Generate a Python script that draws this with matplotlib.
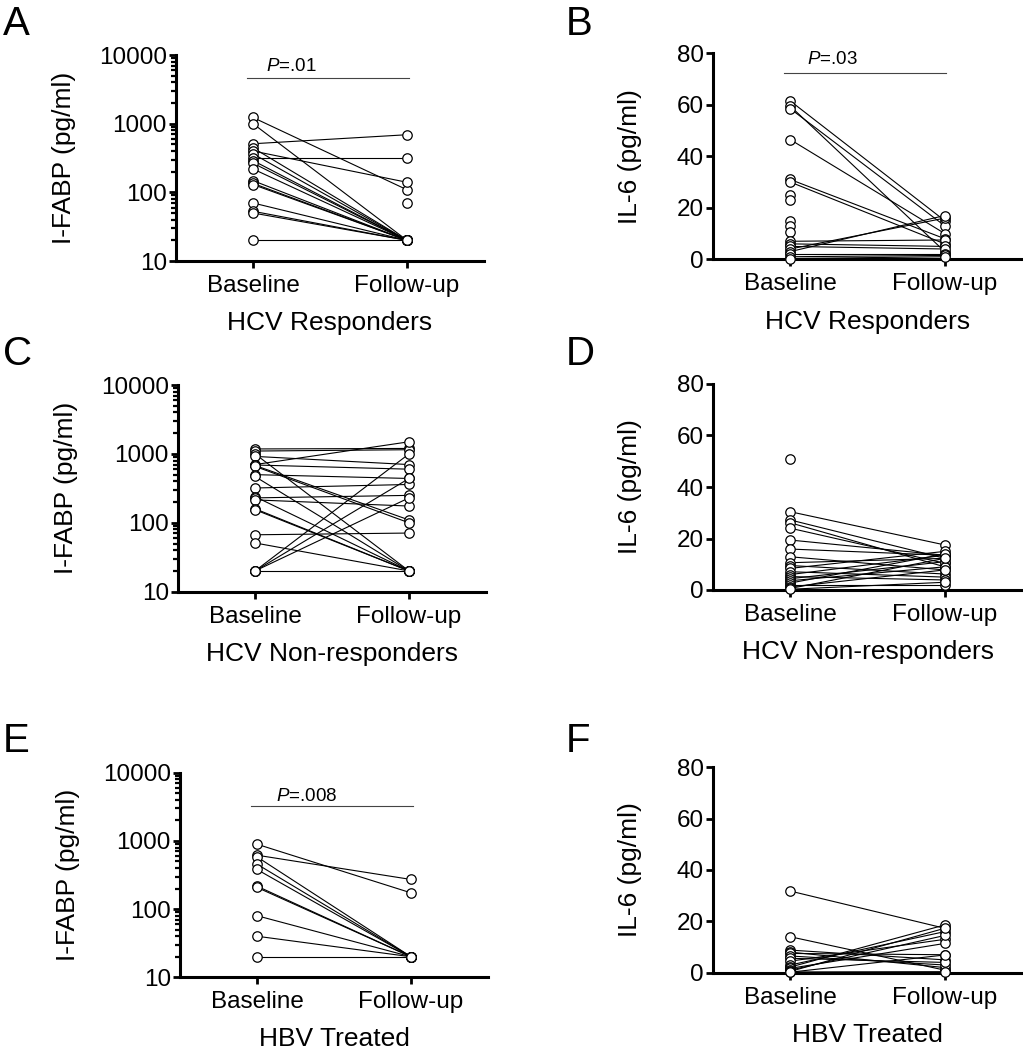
import numpy as np
import matplotlib.pyplot as plt

plt.rcParams['font.family'] = ['Liberation Sans', 'DejaVu Sans']
plt.rcParams['mathtext.fontset'] = 'custom'
plt.rcParams['mathtext.it'] = 'Liberation Sans:italic'
plt.rcParams['mathtext.rm'] = 'Liberation Sans'

nan = np.nan
groups = ['Baseline', 'Follow-up']

# A - I-FABP, HCV responders
a_base = [1230, 1000, 510, 445, 400, 364, 318, 290, 266, 219, 148, 135, 130, 70, 53, 50, 20, nan]
a_follow = [109, 20, 690, 20, 140, 20, 318, 20, 20, 20, 20, 20, 20, 20, 20, 20, 20, 71]

# B - IL-6, HCV responders
b_base = [61.5, 59.5, 58.5, 46.5, 31.0, 30.0, 25.0, 23.0, 15.0, 13.0, 10.5, 7.0, 6.0, 5.0, 4.0, 3.0, 2.0, 1.0, 0.3]
b_follow = [15.0, 3.0, 13.0, 10.0, 8.0, 6.0, nan, nan, nan, nan, nan, 7.5, 5.0, 4.0, 16.0, 17.0, 2.0, 1.5, 1.0]

# C - I-FABP, HCV non-responders
c_base = [1180, 1100, 1000, 920, 700, 690, 680, 660, 500, 470, 320, 240, 230, 215, 160, 155, 67, 51, 20, 20, 20, 20]
c_follow = [1200, 1150, 20, 700, 1500, 600, 110, 100, 440, 20, 360, 20, 250, 175, 20, 20, 71, 20, 1000, 230, 440, 20]

# D - IL-6, HCV non-responders
d_base = [50.7, 30.4, 27.2, 26.1, 24.0, 19.4, 15.9, 12.9, 10.6, 9.5, 8.4, 7.1, 6.0, 5.2, 4.4, 3.6, 2.7, 1.9, 1.2, 0.6, 0.3]
d_follow = [nan, 17.5, 12.3, 9.0, 10.4, 13.5, 13.5, 7.8, 12.3, 6.2, 15.0, 5.0, 13.5, 3.9, 11.0, 9.0, 14.0, 1.9, 7.8, 12.3, 3.0]

# E - I-FABP, HBV treated
e_base = [894, 617, 583, 456, 381, 217, 208, 80, 40, 20]
e_follow = [173, 272, 20, 20, 20, 20, 20, 20, 20, 20]

# F - IL-6, HBV treated
f_base = [31.8, 14.0, 8.8, 8.0, 7.5, 6.5, 5.6, 4.5, 3.0, 2.2, 1.7, 1.0, 0.5, 0.3, 0.2]
f_follow = [17.3, 1.0, 5.0, 2.0, 7.0, 3.0, 4.0, 13.0, 16.0, 18.6, 11.4, 14.5, 17.3, 0.4, 6.9]

fig = plt.figure(figsize=(10.23, 10.5), dpi=100)
W, H = 1023, 1050


def make_axes(left, top, bottom, width):
    return fig.add_axes([left / W, 1 - bottom / H, width / W, (bottom - top) / H])


def draw_pairs(ax, base, follow):
    for b, f in zip(base, follow):
        ax.plot([0, 1], [b, f], '-', color='black', lw=0.8, zorder=2, clip_on=False)
    for x, vals in [(0, base), (1, follow)]:
        ax.plot(np.full(len(vals), x), vals, 'o', ms=6.8, mfc='white', mec='black',
                mew=0.9, zorder=3, clip_on=False)


def style(ax, log, ylabel, xlabel, ylab_x):
    for s in ['top', 'right']:
        ax.spines[s].set_visible(False)
    for s in ['left', 'bottom']:
        ax.spines[s].set_linewidth(2.2)
    ax.set_xlim(-0.5, 1.5)
    ax.set_xticks([0, 1])
    ax.set_xticklabels(groups)
    ax.tick_params(axis='x', length=5, width=2, pad=5, labelsize=17.5)
    if log:
        ax.set_yscale('log')
        ax.set_ylim(10, 10000)
        ax.set_yticks([10, 100, 1000, 10000])
        ax.set_yticklabels(['10', '100', '1000', '10000'])
        ax.yaxis.set_minor_locator(plt.LogLocator(base=10, subs=np.arange(2, 10)))
        ax.yaxis.set_minor_formatter(plt.NullFormatter())
        ax.tick_params(axis='y', which='minor', length=3.5, width=1.6)
    else:
        ax.set_ylim(0, 80)
        ax.set_yticks([0, 20, 40, 60, 80])
    ax.tick_params(axis='y', which='major', length=5, width=2, pad=1.5, labelsize=17.5)
    ax.set_ylabel(ylabel, fontsize=19)
    ax.yaxis.set_label_coords(ylab_x, 0.5)
    ax.set_xlabel(xlabel, fontsize=19)
    ax.xaxis.set_label_coords(0.5, -0.245)


def add_p(ax, label, y_line, x_text, y_text):
    ax.plot([-0.04, 1.01], [y_line, y_line], color='#444444', lw=0.8)
    ax.text(x_text, y_text, label, ha='center', va='center', fontsize=13.5)


axA = make_axes(176, 55, 261, 308)
axB = make_axes(713, 53.3, 259.3, 309)
axC = make_axes(178, 385, 591.7, 308)
axD = make_axes(713, 384, 590, 309)
axE = make_axes(180, 772.7, 977.3, 308)
axF = make_axes(713, 767.3, 972.7, 309)

ifabp = 'I-FABP (pg/ml)'
il6 = 'IL-6 (pg/ml)'

draw_pairs(axA, a_base, a_follow)
style(axA, True, ifabp, 'HCV Responders', -0.325)
add_p(axA, '$P$=.01', 4600, 0.25, 6700)

draw_pairs(axB, b_base, b_follow)
style(axB, False, il6, 'HCV Responders', -0.23)
add_p(axB, '$P$=.03', 72.2, 0.27, 77.4)

draw_pairs(axC, c_base, c_follow)
style(axC, True, ifabp, 'HCV Non-responders', -0.325)

draw_pairs(axD, d_base, d_follow)
style(axD, False, il6, 'HCV Non-responders', -0.23)

draw_pairs(axE, e_base, e_follow)
style(axE, True, ifabp, 'HBV Treated', -0.325)
add_p(axE, '$P$=.008', 3250, 0.32, 4550)

draw_pairs(axF, f_base, f_follow)
style(axF, False, il6, 'HBV Treated', -0.23)

# panel letters
for letter, x, y in [('A', 3, 5), ('B', 566, 5), ('C', 3, 335), ('D', 566, 335),
                     ('E', 3, 722), ('F', 566, 722)]:
    fig.text(x / W, 1 - y / H, letter, fontsize=29, ha='left', va='top')

fig.savefig('out.png', dpi=100)
